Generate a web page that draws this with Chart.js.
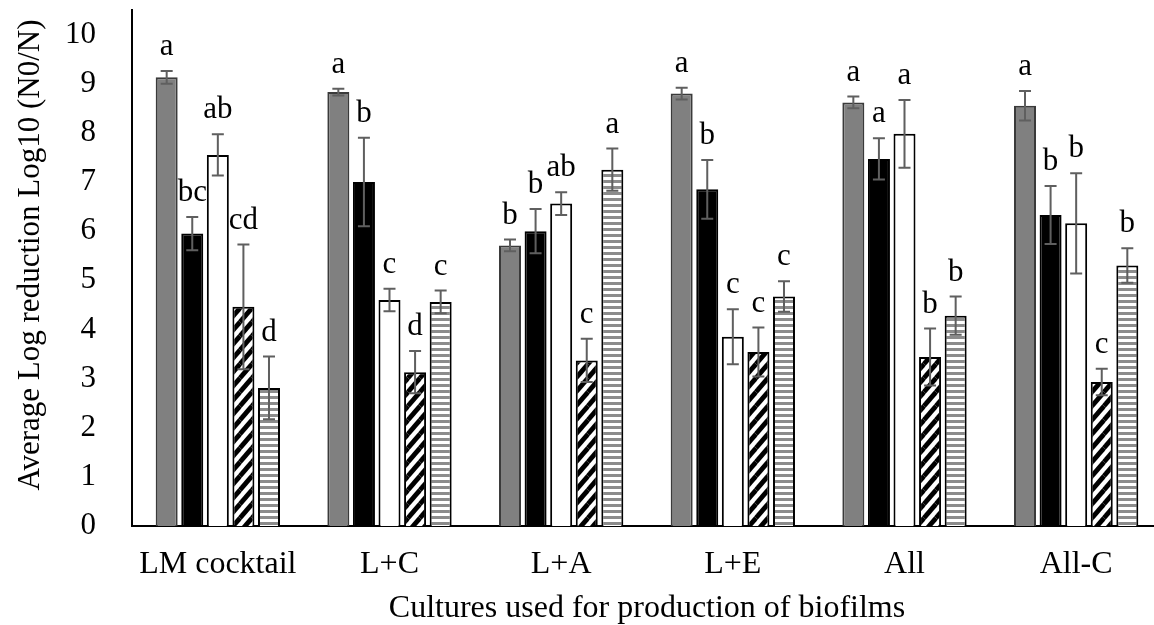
<!DOCTYPE html>
<html>
<head>
<meta charset="utf-8">
<script src="https://cdn.jsdelivr.net/npm/chart.js@4.4.1/dist/chart.umd.min.js"></script>
<style>
  html, body { margin: 0; padding: 0; background: #fff; overflow: hidden; }
  #wrap { width: 1170px; height: 625px; position: relative; }
</style>
</head>
<body>
<div id="wrap"><canvas id="c" width="1170" height="625"></canvas></div>
<script>
// Biofilm cultures on the category axis
const categories = ['LM cocktail', 'L+C', 'L+A', 'L+E', 'All', 'All-C'];

// Mean log reductions, standard deviations and significance letters per treatment
const meanGray  = [9.13, 8.83, 5.71, 8.80, 8.62, 8.55];
const sdGray    = [0.13, 0.07, 0.12, 0.12, 0.12, 0.30];
const letGray   = ['a', 'a', 'b', 'a', 'a', 'a'];

const meanBlack = [5.95, 7.00, 6.00, 6.85, 7.47, 6.33];
const sdBlack   = [0.34, 0.90, 0.45, 0.60, 0.42, 0.59];
const letBlack  = ['bc', 'b', 'b', 'b', 'a', 'b'];

const meanWhite = [7.55, 4.60, 6.56, 3.85, 7.98, 6.16];
const sdWhite   = [0.42, 0.23, 0.23, 0.56, 0.69, 1.02];
const letWhite  = ['ab', 'c', 'ab', 'c', 'a', 'b'];

const meanDiag  = [4.46, 3.13, 3.37, 3.54, 3.44, 2.93];
const sdDiag    = [1.27, 0.43, 0.44, 0.50, 0.58, 0.27];
const letDiag   = ['cd', 'd', 'c', 'c', 'b', 'c'];

const meanHoriz = [2.81, 4.56, 7.25, 4.67, 4.28, 5.30];
const sdHoriz   = [0.64, 0.23, 0.43, 0.31, 0.39, 0.35];
const letHoriz  = ['d', 'c', 'a', 'c', 'b', 'b'];

const yTicks = [0, 1, 2, 3, 4, 5, 6, 7, 8, 9, 10];
const yTitle = 'Average Log reduction Log10 (N0/N)';
const xTitle = 'Cultures used for production of biofilms';

const FONT = '"Liberation Serif", "Times New Roman", serif';

// Fill patterns
function diagonalPattern() {
  const w = 12, h = 14;
  const t = document.createElement('canvas');
  t.width = w; t.height = h;
  const g = t.getContext('2d');
  g.fillStyle = '#fff';
  g.fillRect(0, 0, w, h);
  g.strokeStyle = '#000';
  g.lineWidth = 4.8;
  for (const [dx, dy] of [[0,0],[-w,0],[w,0],[0,-h],[0,h],[w,h],[-w,-h],[w,-h],[-w,h]]) {
    g.beginPath();
    g.moveTo(dx, h + dy);
    g.lineTo(w + dx, dy);
    g.stroke();
  }
  return g.createPattern(t, 'repeat');
}
function horizontalPattern() {
  const t = document.createElement('canvas');
  t.width = 8; t.height = 6;
  const g = t.getContext('2d');
  g.fillStyle = '#fff';
  g.fillRect(0, 0, 8, 6);
  g.fillStyle = '#8c8c8c';
  g.fillRect(0, 0, 8, 3);
  return g.createPattern(t, 'repeat');
}

const series = [
  { label: 'Treatment 1', data: meanGray,  sd: sdGray,  letters: letGray,  bg: '#808080', border: '#3a3a3a' },
  { label: 'Treatment 2', data: meanBlack, sd: sdBlack, letters: letBlack, bg: '#000000', border: '#000000' },
  { label: 'Treatment 3', data: meanWhite, sd: sdWhite, letters: letWhite, bg: '#ffffff', border: '#000000' },
  { label: 'Treatment 4', data: meanDiag,  sd: sdDiag,  letters: letDiag,  bg: diagonalPattern(),   border: '#000000' },
  { label: 'Treatment 5', data: meanHoriz, sd: sdHoriz, letters: letHoriz, bg: horizontalPattern(), border: '#000000' }
];

// Error bars with caps, then significance letters above them
const errorBarPlugin = {
  id: 'errorBars',
  afterDatasetsDraw(chart) {
    const ctx = chart.ctx;
    const y = chart.scales.y;
    ctx.save();
    chart.data.datasets.forEach((ds, i) => {
      const meta = chart.getDatasetMeta(i);
      meta.data.forEach((bar, j) => {
        const m = ds.data[j], s = ds.sd[j];
        const yt = y.getPixelForValue(m + s);
        const yb = y.getPixelForValue(m - s);
        const x = bar.x;
        ctx.strokeStyle = '#5f5f5f';
        ctx.lineWidth = 2;
        ctx.beginPath();
        ctx.moveTo(x, yt); ctx.lineTo(x, yb);
        ctx.moveTo(x - 6, yt); ctx.lineTo(x + 6, yt);
        ctx.moveTo(x - 6, yb); ctx.lineTo(x + 6, yb);
        ctx.stroke();
        ctx.fillStyle = '#000';
        ctx.font = '31px ' + FONT;
        ctx.textAlign = 'center';
        ctx.textBaseline = 'middle';
        ctx.fillText(ds.letters[j], x, yt - 24);
      });
    });
    ctx.restore();
  }
};

// Rotated value-axis title, placed a little above the plot's middle
const yTitlePlugin = {
  id: 'yTitle',
  afterDraw(chart) {
    const ctx = chart.ctx;
    ctx.save();
    ctx.translate(31, 255);
    ctx.rotate(-Math.PI / 2);
    ctx.fillStyle = '#000';
    ctx.font = '31px ' + FONT;
    ctx.textAlign = 'center';
    ctx.textBaseline = 'middle';
    ctx.fillText(yTitle, 0, 0);
    ctx.restore();
  }
};

new Chart(document.getElementById('c'), {
  type: 'bar',
  data: {
    labels: categories,
    datasets: series.map(s => ({
      label: s.label,
      data: s.data,
      sd: s.sd,
      letters: s.letters,
      backgroundColor: s.bg,
      borderColor: s.border,
      borderWidth: 2,
      categoryPercentage: 0.745,
      barPercentage: 0.86
    }))
  },
  options: {
    responsive: false,
    animation: false,
    devicePixelRatio: 1,
    layout: { autoPadding: false, padding: { left: 0, top: 10, right: 8, bottom: 0 } },
    plugins: { legend: { display: false }, tooltip: { enabled: false } },
    scales: {
      x: {
        grid: { display: false },
        border: { display: true, color: '#000', width: 2 },
        ticks: { color: '#000', font: { family: FONT, size: 32 }, padding: 11, maxRotation: 0 },
        title: {
          display: true,
          text: xTitle,
          color: '#000',
          font: { family: FONT, size: 32, lineHeight: 1.0 },
          padding: { top: 0, bottom: 0 }
        },
        afterFit(scale) { scale.height = 99; scale.paddingLeft = 0; scale.paddingRight = 0; }
      },
      y: {
        min: 0,
        max: 10.5,
        grid: { display: false },
        border: { display: true, color: '#000', width: 2 },
        afterBuildTicks(scale) { scale.ticks = yTicks.map(v => ({ value: v })); },
        ticks: { color: '#000', font: { family: FONT, size: 31 }, padding: 28 },
        afterFit(scale) { scale.width = 132; scale.paddingTop = 0; scale.paddingBottom = 0; }
      }
    }
  },
  plugins: [errorBarPlugin, yTitlePlugin]
});
</script>
</body>
</html>
